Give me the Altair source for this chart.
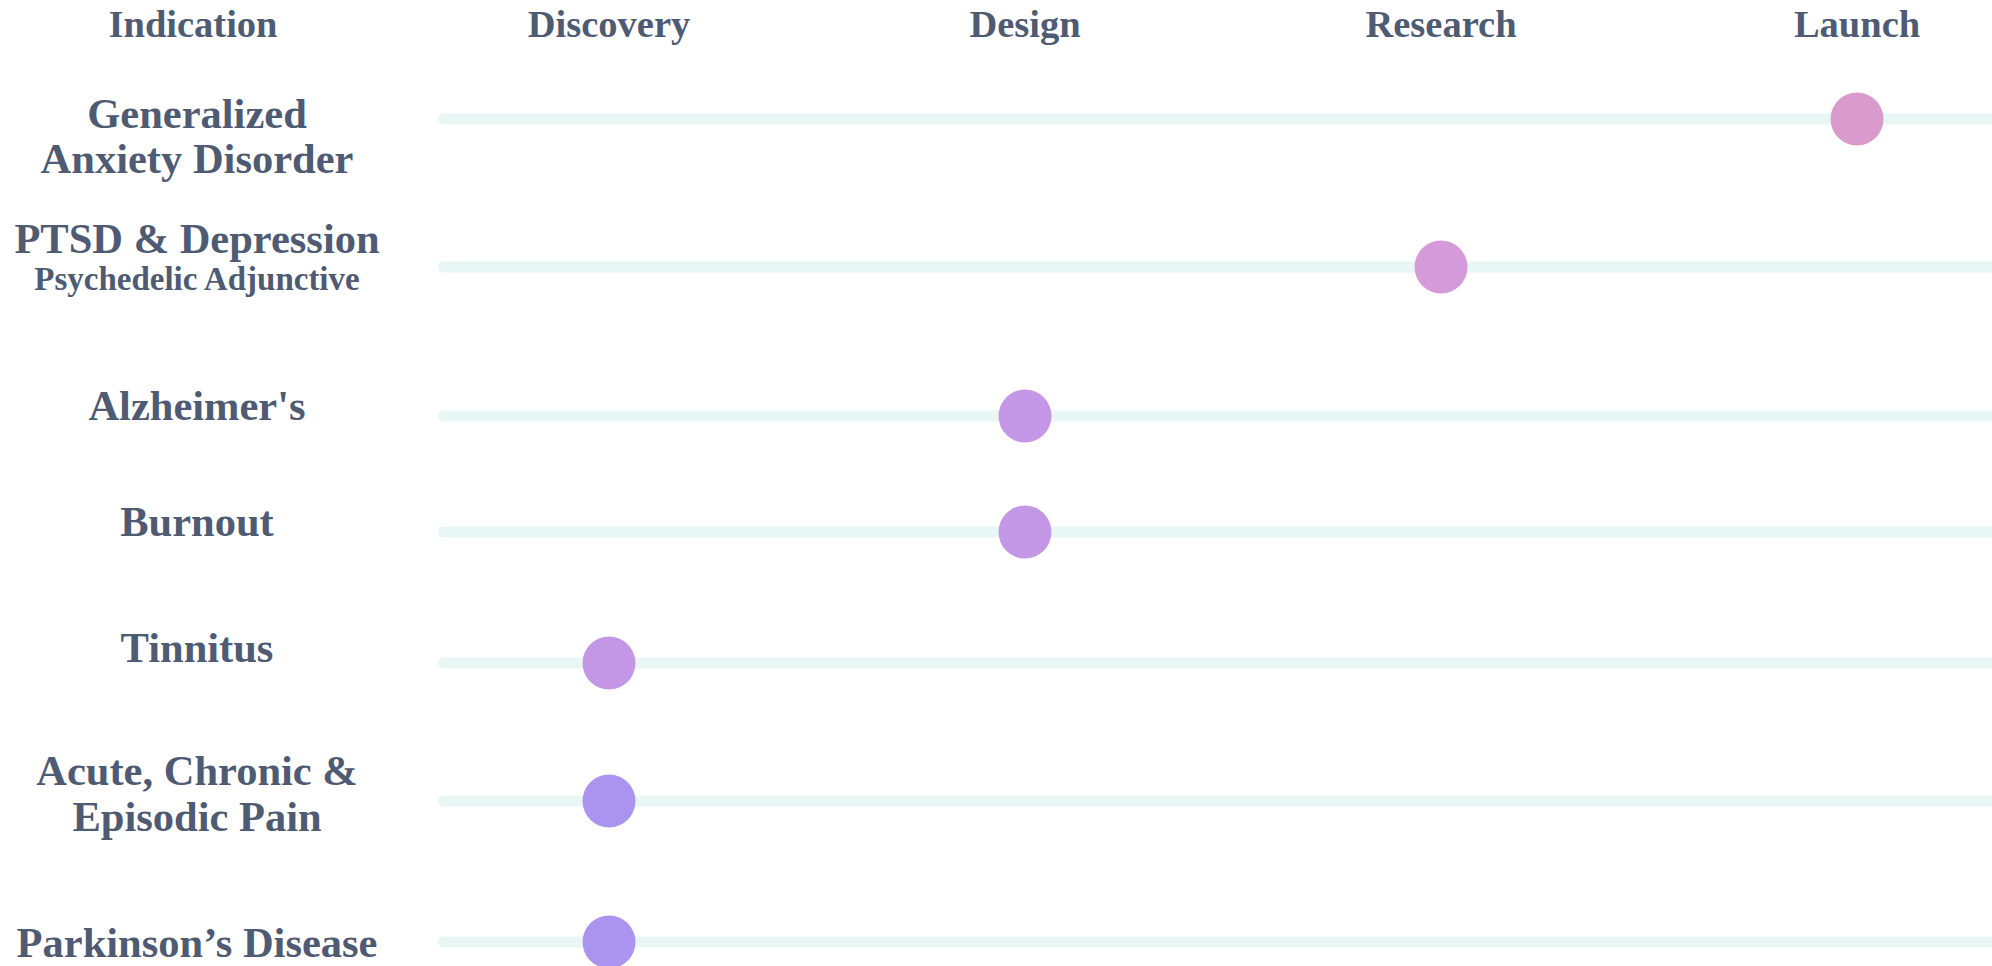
import altair as alt
import pandas as pd

# ---- data ----
stages = ["Discovery", "Design", "Research", "Launch"]
indications = [
    "Generalized Anxiety Disorder",
    "PTSD & Depression",
    "Alzheimer's",
    "Burnout",
    "Tinnitus",
    "Acute, Chronic & Episodic Pain",
    "Parkinson’s Disease",
]
indication_stage = ["Launch", "Research", "Design", "Design", "Discovery", "Discovery", "Discovery"]
# vertical position of each row (layout units, top = 0)
row_pos = [119, 267, 416, 532, 663, 801, 942]
dot_colors = ["#d99bcb", "#d49ada", "#c497e6", "#c497e6", "#c497e6", "#ab94ef", "#ab94ef"]

# label lines as they are broken in the reference
label_lines = [
    "Generalized", "Anxiety Disorder",
    "PTSD & Depression", "Psychedelic Adjunctive",
    "Alzheimer's",
    "Burnout",
    "Tinnitus",
    "Acute, Chronic &", "Episodic Pain",
    "Parkinson’s Disease",
]
label_line_pos = [128, 173, 253, 290, 420, 536, 662, 785, 831, 957]
label_line_size = [42.5, 42.5, 42.5, 33, 42.5, 42.5, 42.5, 42.5, 42.5, 42.5]

header_texts = ["Indication"] + stages
header_pos = 37

# ---- layout constants ----
W, H = 1992, 966
STAGE_PX = 416.0      # pixels between stage columns
FIRST_PX = 609.0      # pixel position of the Discovery column
x_min = -FIRST_PX / STAGE_PX
x_max = (W - FIRST_PX) / STAGE_PX
track_start = (443.5 - FIRST_PX) / STAGE_PX

TEXT_COLOR = "#4f5b72"
TRACK_COLOR = "#e8f6f6"
FONT = "Liberation Serif"

tracks = pd.DataFrame({
    "indication": indications,
    "pos": row_pos,
    "start": [track_start] * len(indications),
    "end": [x_max] * len(indications),
})
dots = pd.DataFrame({
    "indication": indications,
    "stage": indication_stage,
    "stage_idx": [stages.index(s) for s in indication_stage],
    "pos": row_pos,
    "color": dot_colors,
})
headers = pd.DataFrame({
    "text": header_texts,
    "col": list(range(-1, len(stages))),
    "pos": [header_pos] * len(header_texts),
})
labels = pd.DataFrame({
    "text": label_lines,
    "col": [-1] * len(label_lines),
    "pos": label_line_pos,
    "size": label_line_size,
})

xscale = alt.Scale(domain=[x_min, x_max], nice=False, zero=False)
yscale = alt.Scale(domain=[0, H], nice=False, zero=False, reverse=True)

track_layer = alt.Chart(tracks).mark_rule(
    strokeWidth=11, strokeCap="round", color=TRACK_COLOR
).encode(
    x=alt.X("start:Q", scale=xscale, axis=None),
    x2="end:Q",
    y=alt.Y("pos:Q", scale=yscale, axis=None),
)

dot_layer = alt.Chart(dots).mark_circle(size=2800, opacity=1).encode(
    x=alt.X("stage_idx:Q", scale=xscale, axis=None),
    y=alt.Y("pos:Q", scale=yscale, axis=None),
    color=alt.Color("color:N", scale=None, legend=None),
    tooltip=["indication:N", "stage:N"],
)

header_layer = alt.Chart(headers).mark_text(
    font=FONT, fontWeight="bold", fontSize=38.5, color=TEXT_COLOR,
    align="center", baseline="alphabetic",
).encode(
    x=alt.X("col:Q", scale=xscale, axis=None),
    y=alt.Y("pos:Q", scale=yscale, axis=None),
    text="text:N",
)

label_layer = alt.Chart(labels).mark_text(
    font=FONT, fontWeight="bold", color=TEXT_COLOR,
    align="center", baseline="alphabetic", dx=4,
).encode(
    x=alt.X("col:Q", scale=xscale, axis=None),
    y=alt.Y("pos:Q", scale=yscale, axis=None),
    text="text:N",
    size=alt.Size("size:Q", scale=None, legend=None),
)

chart = alt.layer(track_layer, dot_layer, header_layer, label_layer).properties(
    width=W, height=H,
    autosize=alt.AutoSizeParams(type="none"),
    padding=0,
    background="white",
).configure_view(stroke=None)

chart.save("out.html", embed_options={"renderer": "svg", "actions": False})
